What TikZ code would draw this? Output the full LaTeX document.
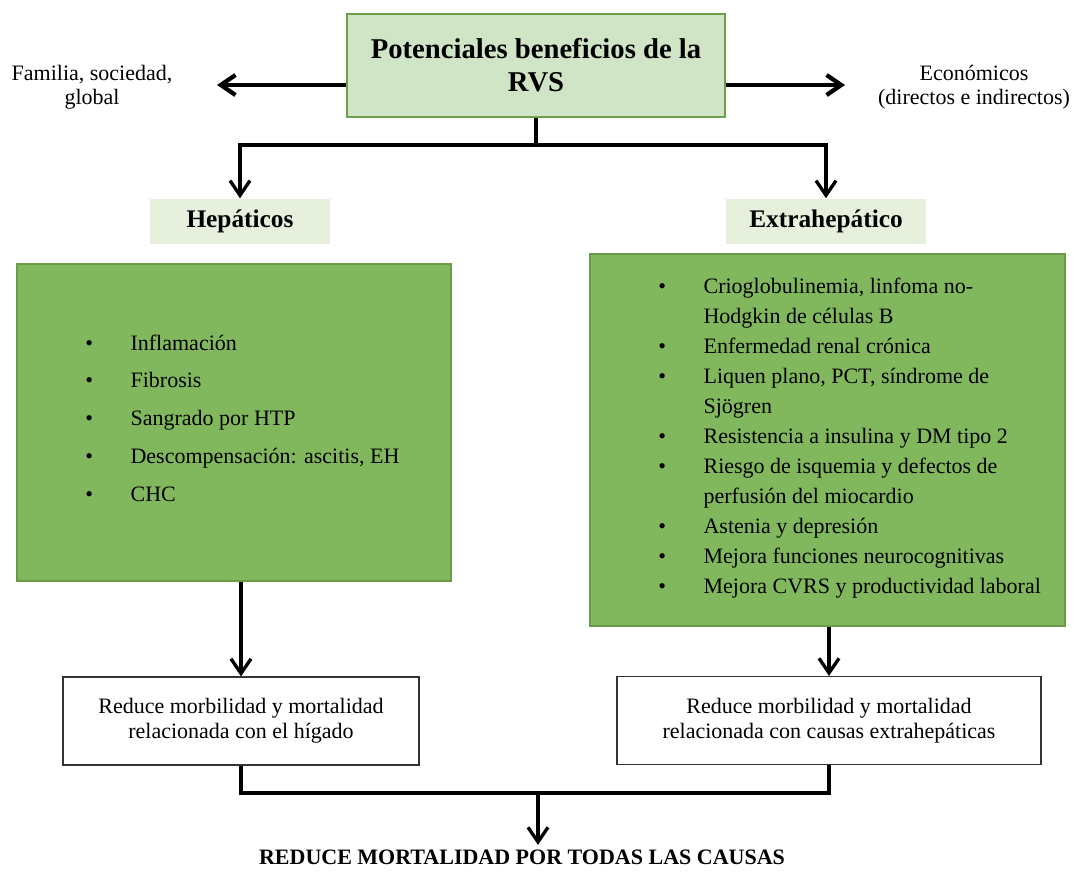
\documentclass[tikz,border=0pt]{standalone}
\usepackage{fontspec}
\setmainfont{Liberation Serif}
\usetikzlibrary{arrows.meta}
\definecolor{rvsedge}{HTML}{6E9E48}
\definecolor{rvslight}{HTML}{D0E5C5}
\definecolor{rvspale}{HTML}{E6F0DC}
\definecolor{rvsmid}{HTML}{82B85D}
\definecolor{rvsline}{HTML}{6B9A4B}

% one bullet line, and the wrapped rest of it
\newcommand{\itm}[1]{\makebox[34pt][l]{\textbullet}#1}
\newcommand{\cont}[1]{\hspace*{34pt}#1}

\tikzset{
  conn/.style={line width=2.5pt, black},
  arr/.style={conn, -{Straight Barb[length=11pt,width=15pt]}},
  sidearr/.style={arr, line width=3.2pt},
  titlebox/.style={draw=rvsedge, line width=1.6pt, fill=rvslight, inner sep=0pt,
    minimum width=283.5pt, minimum height=77.25pt, align=center,
    font=\fontsize{21.5}{24.75}\selectfont\bfseries},
  headbox/.style={fill=rvspale, inner sep=0pt, minimum height=33.75pt,
    font=\fontsize{19}{22}\selectfont\bfseries},
  listbox/.style={draw=rvsline, line width=0.8pt, fill=rvsmid, inner sep=0pt},
  lowbox/.style={draw=black!80, line width=0.9pt, fill=white, inner sep=0pt,
    minimum height=66pt, align=center, font=\fontsize{16.5}{19}\selectfont},
  sidetext/.style={align=center, font=\fontsize{16.5}{18}\selectfont},
}

\begin{document}
\begin{tikzpicture}[x=0.75pt, y=-0.75pt]
  \useasboundingbox (0,0) rectangle (1077,872);

  % Top box and the two side texts
  \node[titlebox] (title) at (536,65.5) {Potenciales beneficios de la\\RVS};
  \node[sidetext] (famtext) at (92,87) {Familia, sociedad,\\global};
  \node[sidetext] (ecotext) at (974,87) {Económicos\\(directos e indirectos)};
  \coordinate (famend) at (217,85);
  \coordinate (ecoend) at (845,85);
  \draw[sidearr] (title.west |- famend) -- (famend);
  \draw[sidearr] (title.east |- ecoend) -- (ecoend);

  % Headings
  \node[headbox, minimum width=135pt] (hephead) at (240,221) {Hepáticos};
  \node[headbox, minimum width=150pt] (exthead) at (826,221) {Extrahepático};
  \coordinate (fork) at (536,145);
  \draw[conn] (title.south) -- (fork);
  \draw[arr] (fork) -| (hephead.north);
  \draw[arr] (fork) -| (exthead.north);

  % Lists
  \node[listbox, minimum width=325.5pt, minimum height=237.75pt] (hepbox) at (234,422.5) {};
  \node[listbox, minimum width=356.25pt, minimum height=279pt] (extbox) at (827.5,440) {};
  \node[anchor=west, align=left, inner sep=0pt, font=\fontsize{16.5}{28.3}\selectfont]
    (hepitems) at (85,418) {%
    \itm{Inflamación}\\
    \itm{Fibrosis}\\
    \itm{Sangrado por HTP}\\
    \itm{Descompensación: ascitis, EH}\\
    \itm{CHC}};
  \node[anchor=west, align=left, inner sep=0pt, font=\fontsize{16.5}{22.5}\selectfont]
    (extitems) at (658,438) {%
    \itm{Crioglobulinemia, linfoma no-}\\
    \cont{Hodgkin de células B}\\
    \itm{Enfermedad renal crónica}\\
    \itm{Liquen plano, PCT, síndrome de}\\
    \cont{Sjögren}\\
    \itm{Resistencia a insulina y DM tipo 2}\\
    \itm{Riesgo de isquemia y defectos de}\\
    \cont{perfusión del miocardio}\\
    \itm{Astenia y depresión}\\
    \itm{Mejora funciones neurocognitivas}\\
    \itm{Mejora CVRS y productividad laboral}};

  % Outcomes
  \node[lowbox, minimum width=267pt] (heplow) at (241,721)
    {Reduce morbilidad y mortalidad\\relacionada con el hígado};
  \node[lowbox, minimum width=318pt] (extlow) at (829,720.5)
    {Reduce morbilidad y mortalidad\\relacionada con causas extrahepáticas};
  \draw[arr] (heplow.north |- hepbox.south) -- (heplow.north);
  \draw[arr] (extlow.north |- extbox.south) -- (extlow.north);

  % Final result
  \node[font=\fontsize{16.5}{19}\selectfont\bfseries] (final) at (522,857)
    {REDUCE MORTALIDAD POR TODAS LAS CAUSAS};
  \coordinate (join) at (538,793);
  \draw[conn] (heplow.south) |- (join);
  \draw[conn] (extlow.south) |- (join);
  \draw[arr] (join) -- (join |- final.north);
\end{tikzpicture}
\end{document}
